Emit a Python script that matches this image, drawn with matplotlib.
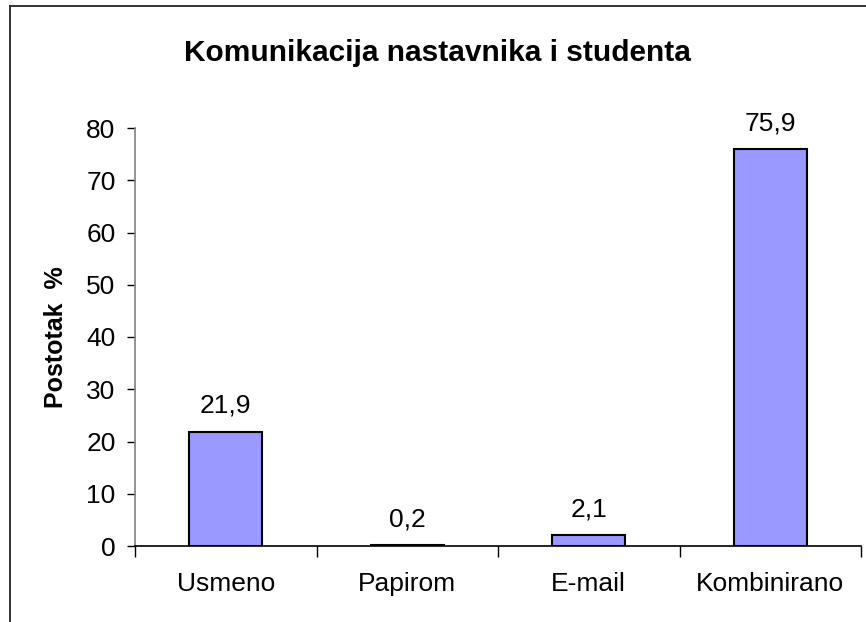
import matplotlib
matplotlib.use("Agg")
import matplotlib.pyplot as plt
from matplotlib.lines import Line2D

# podaci
kategorije = ["Usmeno", "Papirom", "E-mail", "Kombinirano"]
postotci = [21.9, 0.2, 2.1, 75.9]
oznake = ["21,9", "0,2", "2,1", "75,9"]
y_ticks = [0, 10, 20, 30, 40, 50, 60, 70, 80]

plt.rcParams['font.family'] = ['Liberation Sans', 'DejaVu Sans']

fig = plt.figure(figsize=(8.66, 6.22), dpi=100)
ax = fig.add_axes([135 / 866, 1 - 546 / 622, 726 / 866, 418 / 622])

x = list(range(len(kategorije)))
ax.bar(x, postotci, width=0.4, color='#9999FF', edgecolor='black', linewidth=1.5, zorder=3)

for xi, v, t in zip(x, postotci, oznake):
    ax.annotate(t, (xi, v), xytext=(0, 10), textcoords='offset points',
                ha='center', va='bottom', fontsize=19)

ax.set_xlim(-0.5, len(kategorije) - 0.5)
ax.set_ylim(0, 80)
ax.set_yticks(y_ticks)
ax.set_xticks(x)
ax.set_xticklabels(kategorije, fontsize=19)
ax.set_xticks([i - 0.5 for i in range(len(kategorije) + 1)], minor=True)
ax.tick_params(axis='x', which='major', length=0, pad=19)
ax.tick_params(axis='x', which='minor', length=8, width=1, color='black', direction='out')
ax.tick_params(axis='y', labelsize=19, length=6, width=1, color='black', pad=8)

for s in ['top', 'right']:
    ax.spines[s].set_visible(False)
ax.spines['left'].set_color('#808080')
ax.spines['left'].set_linewidth(1.2)
ax.spines['bottom'].set_color('black')
ax.spines['bottom'].set_linewidth(1.2)

ax.set_ylabel('Postotak  %', fontsize=18, fontweight='bold', labelpad=13)
fig.text(0.505, 1 - 53 / 622, 'Komunikacija nastavnika i studenta',
         ha='center', va='center', fontsize=21.5, fontweight='bold')

# okvir
fig.add_artist(Line2D([10 / 866, 10 / 866], [0, 1 - 6 / 622], transform=fig.transFigure,
                      color='#222222', linewidth=1.3))
fig.add_artist(Line2D([10 / 866, 1], [1 - 6 / 622, 1 - 6 / 622], transform=fig.transFigure,
                      color='#222222', linewidth=1.3))

fig.savefig('out.png', dpi=100)
